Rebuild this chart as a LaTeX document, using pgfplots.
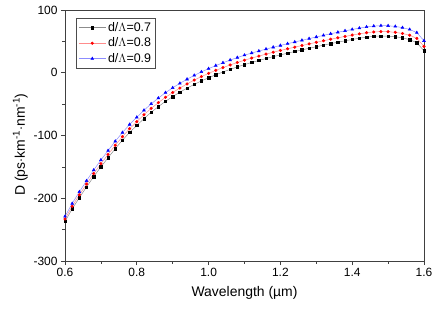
\documentclass[border=0pt]{standalone}
\usepackage{pgfplots}
\pgfplotsset{compat=1.18}
\usepackage{pgfplotstable}
\usepackage{fontspec}
\setmainfont{Liberation Sans}
\usetikzlibrary{calc}
\pgfplotstableread{
x b r u
0.60 -237 -233 -229
0.62 -217 -212.8 -208.4
0.64 -199 -194.6 -189.8
0.66 -182 -177.4 -172.2
0.68 -165.5 -160.7 -155.1
0.70 -150 -145 -139
0.72 -135.5 -130.3 -124.1
0.74 -121 -115.6 -109.2
0.76 -107.5 -101.9 -95.3
0.78 -95 -89.2 -82.4
0.80 -84 -78 -71
0.82 -73 -66.9 -59.8
0.84 -63 -56.8 -49.6
0.86 -54 -47.7 -40.4
0.88 -45.5 -39.1 -31.7
0.90 -38 -31.5 -24
0.92 -31 -24.4 -16.9
0.94 -24.5 -17.8 -10.3
0.96 -18.5 -11.7 -4.2
0.98 -13 -6.1 1.4
1.00 -8 -1 6.5
1.02 -3.2 3.8 11.4
1.04 1.2 8.2 15.9
1.06 5.4 12.4 20.2
1.08 9.3 16.3 24.2
1.10 13 20 28
1.12 16.4 23.4 31.4
1.14 19.6 26.6 34.6
1.16 22.7 29.7 37.7
1.18 25.7 32.7 40.7
1.20 28.5 35.5 43.5
1.22 31.2 38.2 46.3
1.24 33.8 40.8 49
1.26 36.4 43.4 51.7
1.28 39 46 54.4
1.30 41.5 48.5 57
1.32 44 51 59.6
1.34 46.4 53.4 62.1
1.36 48.7 55.7 64.5
1.38 50.9 57.9 66.8
1.40 53 60 69
1.42 55 62 71.1
1.44 56.8 63.8 73
1.46 58 65 74.3
1.48 58.6 65.6 75
1.50 58.4 65.4 74.9
1.52 57.4 64.4 73.8
1.54 55.6 62.6 71.9
1.56 52.8 59.8 69
1.58 47.8 54.8 63.9
1.60 35 42 51
}\datatable
\begin{document}
\begin{tikzpicture}[x=1bp,y=1bp]
\begin{axis}[
  name=ax,
  at={(0,0)}, anchor=south west,
  scale only axis,
  width=359bp, height=251bp,
  xmin=0.6, xmax=1.6, ymin=-300, ymax=100,
  xtick={0.6,0.8,1.0,1.2,1.4,1.6},
  ytick={-300,-200,-100,0,100},
  minor x tick num=1, minor y tick num=1,
  tick align=outside,
  xtick pos=bottom, ytick pos=left,
  major tick length=4bp, minor tick length=2.5bp,
  axis line style={black!75, line width=0.9pt},
  every tick/.style={black!75, line width=0.7pt},
  x tick label style={/pgf/number format/.cd, fixed, fixed zerofill, precision=1},
  /pgf/number format/assume math mode=true,
  tick label style={font=\fontsize{12}{13}\selectfont},
  xlabel={Wavelength (\textmu m)},
  ylabel={D (ps$\cdot$km\textsuperscript{-1}$\cdot$nm\textsuperscript{-1})},
  label style={font=\fontsize{14}{15}\selectfont},
  xlabel style={yshift=-3bp},
  ylabel style={yshift=-1bp, xshift=-9bp},
  legend style={at={(0.031,0.968)}, anchor=north west, draw=black!70,
    font=\fontsize{12.5}{14}\selectfont, inner sep=2.2bp, row sep=1bp,
    legend cell align=left},
  legend image code/.code={
    \draw[mark repeat=2,mark phase=2] plot coordinates {(0bp,0bp) (13.5bp,0bp) (27bp,0bp)};},
]
\addplot[black!45, line width=0.5pt, mark=square*, mark size=1.2bp,
  mark options={black, fill=black, draw=black}] table[x=x,y=b]{\datatable};
\addlegendentry{d/$\Lambda$=0.7}
\addplot[red!45, line width=0.5pt, mark=*, mark size=1.3bp,
  mark options={red, fill=red, draw=red}] table[x=x,y=r]{\datatable};
\addlegendentry{d/$\Lambda$=0.8}
\addplot[blue!45, line width=0.5pt, mark=triangle*, mark size=1.6bp,
  mark options={blue, fill=blue, draw=blue}] table[x=x,y=u]{\datatable};
\addlegendentry{d/$\Lambda$=0.9}
\end{axis}
\pgfresetboundingbox
\path[use as bounding box] ($(ax.south west)+(-65bp,-49bp)$) rectangle ($(ax.north east)+(15bp,10bp)$);
\end{tikzpicture}
\end{document}
